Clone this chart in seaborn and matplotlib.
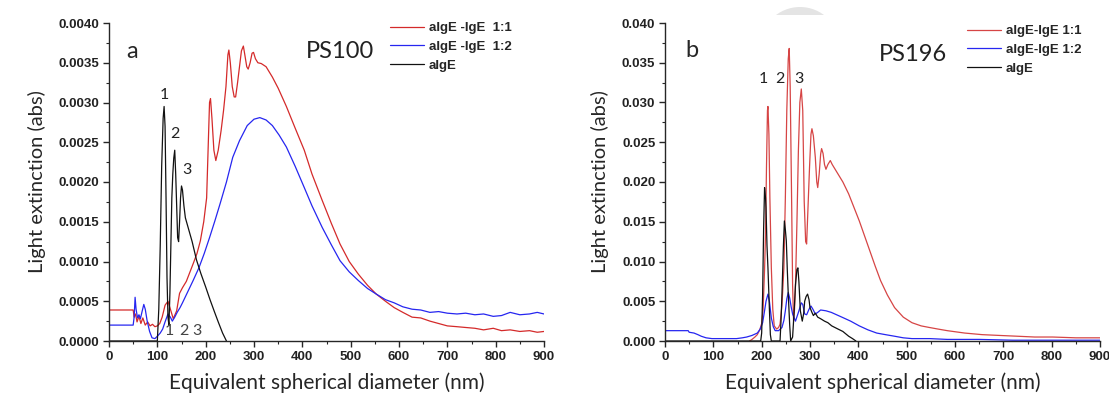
import numpy as np
import pandas as pd
import seaborn as sns
import matplotlib.pyplot as plt
from matplotlib.ticker import MultipleLocator, FormatStrFormatter
from matplotlib.patches import Ellipse, Rectangle

# ---- panel a (PS100) ----
ra_x = [0, 50, 52, 55, 58, 62, 66, 70, 75, 80, 85, 90, 95, 100, 105, 110, 116, 122, 127, 133,
        140, 146, 152, 160, 167, 174, 182, 189, 196, 202, 205, 208, 210, 213, 217, 221, 226, 232,
        237, 242, 246, 248, 251, 255, 259, 262, 266, 270, 274, 278, 281, 285, 288, 292, 296, 299,
        303, 308, 315, 325, 338, 350, 367, 385, 404, 420, 441, 460, 478, 497, 516, 535, 553, 572,
        590, 608, 627, 645, 664, 682, 700, 720, 738, 757, 775, 795, 812, 830, 850, 870, 886, 900]
ra_y = [0.00039, 0.00039, 0.00030, 0.00034, 0.00024, 0.00031, 0.00022, 0.00029, 0.00020, 0.00024,
        0.00019, 0.00021, 0.00018, 0.00019, 0.00022, 0.00030, 0.00045, 0.00050, 0.00040, 0.00028,
        0.00038, 0.00060, 0.00067, 0.00075, 0.00086, 0.00097, 0.00110, 0.00126, 0.00150, 0.00180,
        0.00240, 0.00300, 0.00305, 0.00280, 0.00240, 0.00227, 0.00240, 0.00265, 0.00290, 0.00320,
        0.00360, 0.00366, 0.00350, 0.00320, 0.00307, 0.00307, 0.00325, 0.00345, 0.00365, 0.00371,
        0.00360, 0.00345, 0.00342, 0.00350, 0.00362, 0.00363, 0.00355, 0.00350, 0.00349, 0.00345,
        0.00332, 0.00318, 0.00295, 0.00268, 0.00240, 0.00210, 0.00177, 0.00148, 0.00122, 0.00100,
        0.00084, 0.00070, 0.00059, 0.00050, 0.00042, 0.00036, 0.00030, 0.00029, 0.00025, 0.00022,
        0.00019, 0.00018, 0.00017, 0.00016, 0.00014, 0.00016, 0.00013, 0.00014, 0.00012, 0.00013,
        0.00011, 0.00012]

ba_x = [0, 50, 52, 54, 56, 59, 62, 65, 68, 72, 75, 79, 84, 89, 95, 100, 106, 111, 116, 122, 127,
        131, 136, 141, 147, 152, 163, 174, 186, 197, 208, 219, 230, 243, 256, 270, 286, 300, 312,
        325, 338, 352, 367, 385, 404, 420, 441, 460, 478, 497, 516, 535, 553, 572, 590, 608, 627,
        645, 664, 682, 700, 720, 738, 757, 775, 795, 812, 830, 850, 870, 886, 900]
ba_y = [0.00020, 0.00020, 0.00030, 0.00055, 0.00040, 0.00029, 0.00033, 0.00028, 0.00036, 0.00046,
        0.00040, 0.00025, 0.00012, 0.00004, 0.00003, 0.00006, 0.00010, 0.00015, 0.00024, 0.00034,
        0.00030, 0.00025, 0.00030, 0.00036, 0.00042, 0.00048, 0.00062, 0.00076, 0.00092, 0.00110,
        0.00130, 0.00151, 0.00173, 0.00200, 0.00231, 0.00252, 0.00271, 0.00279, 0.00281, 0.00278,
        0.00271, 0.00259, 0.00244, 0.00220, 0.00193, 0.00170, 0.00143, 0.00121, 0.00101, 0.00087,
        0.00076, 0.00066, 0.00059, 0.00052, 0.00048, 0.00043, 0.00040, 0.00039, 0.00036, 0.00037,
        0.00035, 0.00034, 0.00035, 0.00033, 0.00034, 0.00031, 0.00032, 0.00036, 0.00033, 0.00034,
        0.00036, 0.00034]

ka_x = [0, 95, 100, 103, 106, 109, 112, 114, 116, 118, 120, 122, 124, 126, 128, 130, 132, 134,
        136, 138, 140, 142, 144, 146, 148, 150, 152, 155, 158, 165, 172, 181, 190, 200, 209, 218,
        226, 235, 243]
ka_y = [0, 0, 0, 0.0004, 0.0012, 0.0022, 0.0028, 0.00295, 0.0027, 0.0018, 0.0008, 0.0003, 0.0002,
        0.0006, 0.0012, 0.0018, 0.0021, 0.0023, 0.0024, 0.0021, 0.0017, 0.0013, 0.00125, 0.0015,
        0.0018, 0.00195, 0.0019, 0.0017, 0.00155, 0.0014, 0.00125, 0.00102, 0.00085, 0.00068,
        0.00052, 0.00037, 0.00024, 0.00010, 0.0]

# ---- panel b (PS196) ----
rb_x = [175, 180, 186, 191, 196, 200, 203, 206, 208, 210, 212, 213, 215, 217, 220, 223, 226, 231,
        235, 238, 242, 246, 249, 252, 255, 257, 259, 262, 264, 266, 268, 270, 273, 276, 279, 282,
        285, 288, 291, 293, 296, 299, 302, 304, 307, 311, 314, 316, 319, 322, 324, 327, 330, 333,
        337, 342, 346, 352, 358, 368, 380, 391, 402, 413, 424, 435, 446, 460, 475, 493, 511, 530,
        547, 565, 584, 620, 656, 692, 729, 765, 802, 850, 900]
rb_y = [0.0, 0.0002, 0.0005, 0.0008, 0.0014, 0.0022, 0.0040, 0.0090, 0.0134, 0.0220, 0.0290,
        0.0295, 0.0260, 0.0180, 0.0092, 0.0040, 0.0019, 0.0015, 0.0017, 0.0021, 0.0045, 0.0092,
        0.0180, 0.0290, 0.0355, 0.0368, 0.0320, 0.0176, 0.0070, 0.0025, 0.0040, 0.0071, 0.0150,
        0.0240, 0.0300, 0.0317, 0.0290, 0.0176, 0.0125, 0.0122, 0.0170, 0.0218, 0.0260, 0.0267,
        0.0258, 0.0231, 0.0200, 0.0193, 0.0210, 0.0235, 0.0242, 0.0236, 0.0222, 0.0216, 0.0222,
        0.0227, 0.0222, 0.0216, 0.0210, 0.0200, 0.0185, 0.0168, 0.0151, 0.0132, 0.0113, 0.0094,
        0.0076, 0.0058, 0.0042, 0.0030, 0.0023, 0.0019, 0.0017, 0.0015, 0.0013, 0.0010, 0.0008,
        0.0007, 0.0006, 0.0005, 0.0005, 0.0004, 0.0004]

bb_x = [0, 48, 50, 60, 68, 75, 85, 97, 148, 160, 169, 180, 191, 197, 202, 206, 209, 213, 216, 220,
        224, 228, 235, 242, 246, 249, 252, 255, 258, 261, 264, 270, 276, 282, 285, 289, 293, 298,
        302, 306, 311, 316, 322, 333, 344, 355, 366, 384, 402, 420, 438, 456, 475, 493, 511, 548,
        584, 650, 720, 800, 900]
bb_y = [0.0013, 0.0013, 0.0011, 0.0010, 0.0008, 0.0006, 0.0004, 0.0003, 0.0003, 0.0004, 0.0005,
        0.0007, 0.0010, 0.0015, 0.0023, 0.0038, 0.0050, 0.0059, 0.0050, 0.0029, 0.0018, 0.0013,
        0.0013, 0.0017, 0.0026, 0.0038, 0.0053, 0.0061, 0.0054, 0.0043, 0.0034, 0.0025, 0.0036,
        0.0048, 0.0046, 0.0034, 0.0033, 0.0040, 0.0044, 0.0040, 0.0034, 0.0036, 0.0039, 0.0038,
        0.0036, 0.0033, 0.0030, 0.0025, 0.0019, 0.0014, 0.0010, 0.0008, 0.0006, 0.0004, 0.0003,
        0.0003, 0.0002, 0.0002, 0.0001, 0.0001, 0.0001]

kb_x = [0, 198, 200, 202, 204, 206, 208, 209, 211, 213, 216, 218, 220, 238, 240, 242, 245, 247,
        249, 251, 253, 255, 258, 260, 264, 267, 270, 273, 275, 277, 280, 284, 287, 289, 292, 295,
        298, 300, 304, 307, 311, 316, 322, 330, 337, 345, 358, 368, 380, 388, 395]
kb_y = [0, 0, 0.0010, 0.0059, 0.0140, 0.0193, 0.0180, 0.0168, 0.0120, 0.0092, 0.0040, 0.0008, 0.0,
        0.0, 0.0025, 0.0059, 0.0120, 0.0151, 0.0140, 0.0126, 0.0090, 0.0059, 0.0020, 0.0, 0.0005,
        0.0035, 0.0071, 0.0090, 0.0092, 0.0075, 0.0038, 0.0025, 0.0035, 0.0050, 0.0056, 0.0059,
        0.0052, 0.0042, 0.0036, 0.0032, 0.0035, 0.0030, 0.0028, 0.0025, 0.0023, 0.0019, 0.0015,
        0.0012, 0.0006, 0.0003, 0.0]

labels_a = ["aIgE -IgE  1:1", "aIgE -IgE  1:2", "aIgE"]
labels_b = ["aIgE-IgE 1:1", "aIgE-IgE 1:2", "aIgE"]

sns.set_style("ticks")
plt.rcParams['font.family'] = ['Liberation Sans', 'DejaVu Sans']

W, H = 1109, 397
fig = plt.figure(figsize=(W / 100, H / 100), dpi=100)
ax_a = fig.add_axes([109 / W, 1 - 341 / H, 435 / W, 318 / H])
ax_b = fig.add_axes([665 / W, 1 - 341 / H, 435 / W, 318 / H])

def draw(ax, series, labels, colors):
    for (x, y), lab, c in zip(series, labels, colors):
        df = pd.DataFrame({'x': x, 'y': y})
        sns.lineplot(data=df, x='x', y='y', ax=ax, color=c, linewidth=0.9,
                     estimator=None, sort=False, label=lab)
    ax.set_xlim(0, 900)
    ax.xaxis.set_major_locator(MultipleLocator(100))
    ax.xaxis.set_minor_locator(MultipleLocator(50))
    for s in ['top', 'right']:
        ax.spines[s].set_visible(False)
    ax.spines['left'].set_linewidth(1.0)
    ax.spines['bottom'].set_linewidth(1.0)
    ax.tick_params(which='major', direction='out', length=4, width=1, pad=3)
    ax.tick_params(which='minor', direction='out', length=2.5, width=0.8)
    ax.set_xlabel("Equivalent spherical diameter (nm)", family='Lato', fontsize=15, labelpad=7)
    ax.set_ylabel("Light extinction (abs)", family='Lato', fontsize=14.5, labelpad=9)
    ax.get_legend().remove()

draw(ax_a, [(ra_x, ra_y), (ba_x, ba_y), (ka_x, ka_y)], labels_a, ['#d42a2a', '#2626f0', '#111111'])
ax_a.set_ylim(0, 0.004)
ax_a.yaxis.set_major_locator(MultipleLocator(0.0005))
ax_a.yaxis.set_minor_locator(MultipleLocator(0.00025))
ax_a.yaxis.set_major_formatter(FormatStrFormatter('%.4f'))

draw(ax_b, [(rb_x, rb_y), (bb_x, bb_y), (kb_x, kb_y)], labels_b, ['#d64545', '#2626f0', '#111111'])
ax_b.set_ylim(0, 0.040)
ax_b.yaxis.set_major_locator(MultipleLocator(0.005))
ax_b.yaxis.set_minor_locator(MultipleLocator(0.0025))
ax_b.yaxis.set_major_formatter(FormatStrFormatter('%.3f'))

for ax in (ax_a, ax_b):
    for t in ax.get_xticklabels() + ax.get_yticklabels():
        t.set_fontweight('bold')
        t.set_fontsize(9.5)
        t.set_color('#222222')

# panel letters and sample names
ax_a.text(47, 0.00364, "a", family='Lato', fontsize=17, ha='center', va='center')
ax_a.text(478, 0.00364, "PS100", family='Lato', fontsize=17, ha='center', va='center', color='#222222')
ax_b.text(55, 0.0366, "b", family='Lato', fontsize=17, ha='center', va='center')
ax_b.text(513, 0.036, "PS196", family='Lato', fontsize=17, ha='center', va='center', color='#222222')

for x, y, s in [(114, 0.0031, "1"), (137, 0.0026, "2"), (161, 0.00215, "3")]:
    ax_a.text(x, y, s, family='Lato', fontsize=11.5, ha='center', va='center', color='#222222')
for x, y, s in [(125, 0.00012, "1"), (154, 0.00012, "2"), (181, 0.00012, "3")]:
    ax_a.text(x, y, s, family='Lato', fontsize=11.5, ha='center', va='center', color='#444444')
for x, y, s in [(203, 0.033, "1"), (238, 0.033, "2"), (278, 0.033, "3")]:
    ax_b.text(x, y, s, family='Lato', fontsize=11.5, ha='center', va='center', color='#222222')

# legends
def legend(ax, x0, y0):
    h = ax.get_lines()[:3]
    fig.legend(handles=h, labels=[ln.get_label() for ln in h], loc='upper left',
               bbox_to_anchor=(x0 / W, 1 - y0 / H), frameon=False, borderpad=0,
               borderaxespad=0, handlelength=2.6, handletextpad=0.35, labelspacing=0.5,
               prop={'weight': 'bold', 'size': 9.5})

legend(ax_a, 390, 22)
legend(ax_b, 967, 25)

# faint grey watermark cap at top of panel b
clip = Rectangle((0, 1 - 15 / H), 1, 15 / H, transform=fig.transFigure)
cap = Ellipse((800 / W, 1 - 47 / H), 80 / W, 80 / H, transform=fig.transFigure,
              facecolor='#e4e4e4', edgecolor='none', zorder=0)
fig.patches.append(cap)
cap.set_clip_path(clip)

fig.savefig("out.png", dpi=100)
